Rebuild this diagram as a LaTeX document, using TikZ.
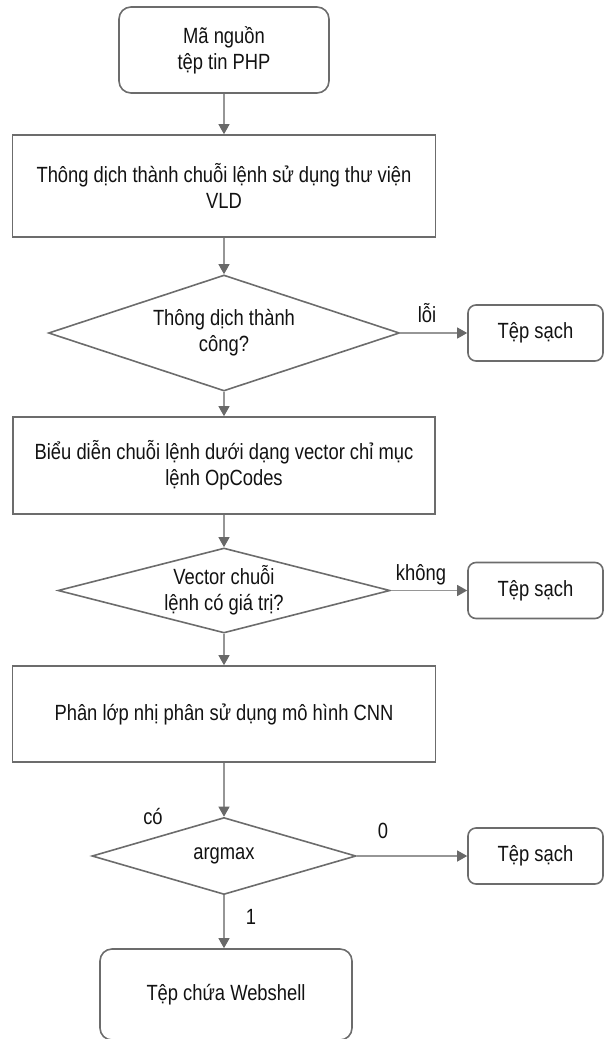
\documentclass[tikz,border=0pt]{standalone}
\usepackage{fontspec}
\setmainfont{Liberation Sans}[FakeStretch=0.835]
\usetikzlibrary{shapes.geometric,arrows.meta}
\definecolor{edgegray}{RGB}{108,108,108}
\definecolor{linkgray}{RGB}{150,150,150}
\definecolor{headgray}{RGB}{105,105,105}
\definecolor{inkblack}{RGB}{18,18,18}
\begin{document}
\begin{tikzpicture}[x=1pt,y=-1pt,
  every node/.style={text=inkblack,font=\fontsize{22}{26}\selectfont,align=center,inner sep=0pt},
  procbox/.style={draw=edgegray,line width=1.6pt,rectangle},
  termbox/.style={draw=edgegray,line width=1.6pt,rectangle,rounded corners=12pt},
  cleanbox/.style={draw=edgegray,line width=1.6pt,rectangle,rounded corners=8pt,
    minimum width=135pt,minimum height=56pt},
  decision/.style={draw=edgegray,line width=1.6pt,diamond},
  link/.style={draw=linkgray,line width=1.2pt,
    -{Triangle[length=10pt,width=11pt,color=headgray]}},
  edgelabel/.style={font=\fontsize{22}{26}\selectfont}
]
\useasboundingbox (0,0) rectangle (606,1039);

% main column
\node[termbox,minimum width=210pt,minimum height=86pt] (src) at (224,50)
  {\fontsize{22}{28}\selectfont Mã nguồn\\tệp tin PHP};
\node[procbox,minimum width=423pt,minimum height=102pt] (vld) at (224,186)
  {Thông dịch thành chuỗi lệnh sử dụng thư viện\\VLD};
\node[decision,minimum width=351pt,minimum height=116pt,aspect=3.03] (ok) at (224,333)
  {\fontsize{22}{30}\selectfont Thông dịch thành\\công?};
\node[procbox,minimum width=422pt,minimum height=97pt] (vec) at (224,465.5)
  {Biểu diễn chuỗi lệnh dưới dạng vector chỉ mục\\lệnh OpCodes};
\node[decision,minimum width=332pt,minimum height=85pt,aspect=3.9] (valid) at (224,590.5)
  {\fontsize{22}{28}\selectfont Vector chuỗi\\lệnh có giá trị?};
\node[procbox,minimum width=423pt,minimum height=96pt] (cnn) at (224,714)
  {Phân lớp nhị phân sử dụng mô hình CNN};
\node[decision,minimum width=264pt,minimum height=77pt,aspect=3.43] (amax) at (224,856)
  {argmax};
\node[termbox,minimum width=252pt,minimum height=91pt] (shell) at (226,994.5)
  {Tệp chứa Webshell};

% clean-file exits
\node[cleanbox] (clean1) at (535.5,333) {Tệp sạch};
\node[cleanbox] (clean2) at (535.5,590.5) {Tệp sạch};
\node[cleanbox] (clean3) at (535.5,856) {Tệp sạch};

% flow
\draw[link] (src.south) -- (vld.north);
\draw[link] (vld.south) -- (ok.north);
\draw[link] (ok.south) -- (vec.north);
\draw[link] (vec.south) -- (valid.north);
\draw[link] (valid.south) -- (cnn.north);
\draw[link] (cnn.south) -- (amax.north);
\draw[link] (amax.south) -- (amax.south |- shell.north);
\draw[link] (ok.east) -- (clean1.west);
\draw[link] (valid.east) -- (clean2.west);
\draw[link] (amax.east) -- (clean3.west);

% edge labels
\node[edgelabel] (lerr) at (427,313) {lỗi};
\node[edgelabel] (lno) at (421,575) {không};
\node[edgelabel] (lyes) at (153,816) {có};
\node[edgelabel] (lzero) at (383,831) {0};
\node[edgelabel] (lone) at (251,917) {1};
\end{tikzpicture}
\end{document}
